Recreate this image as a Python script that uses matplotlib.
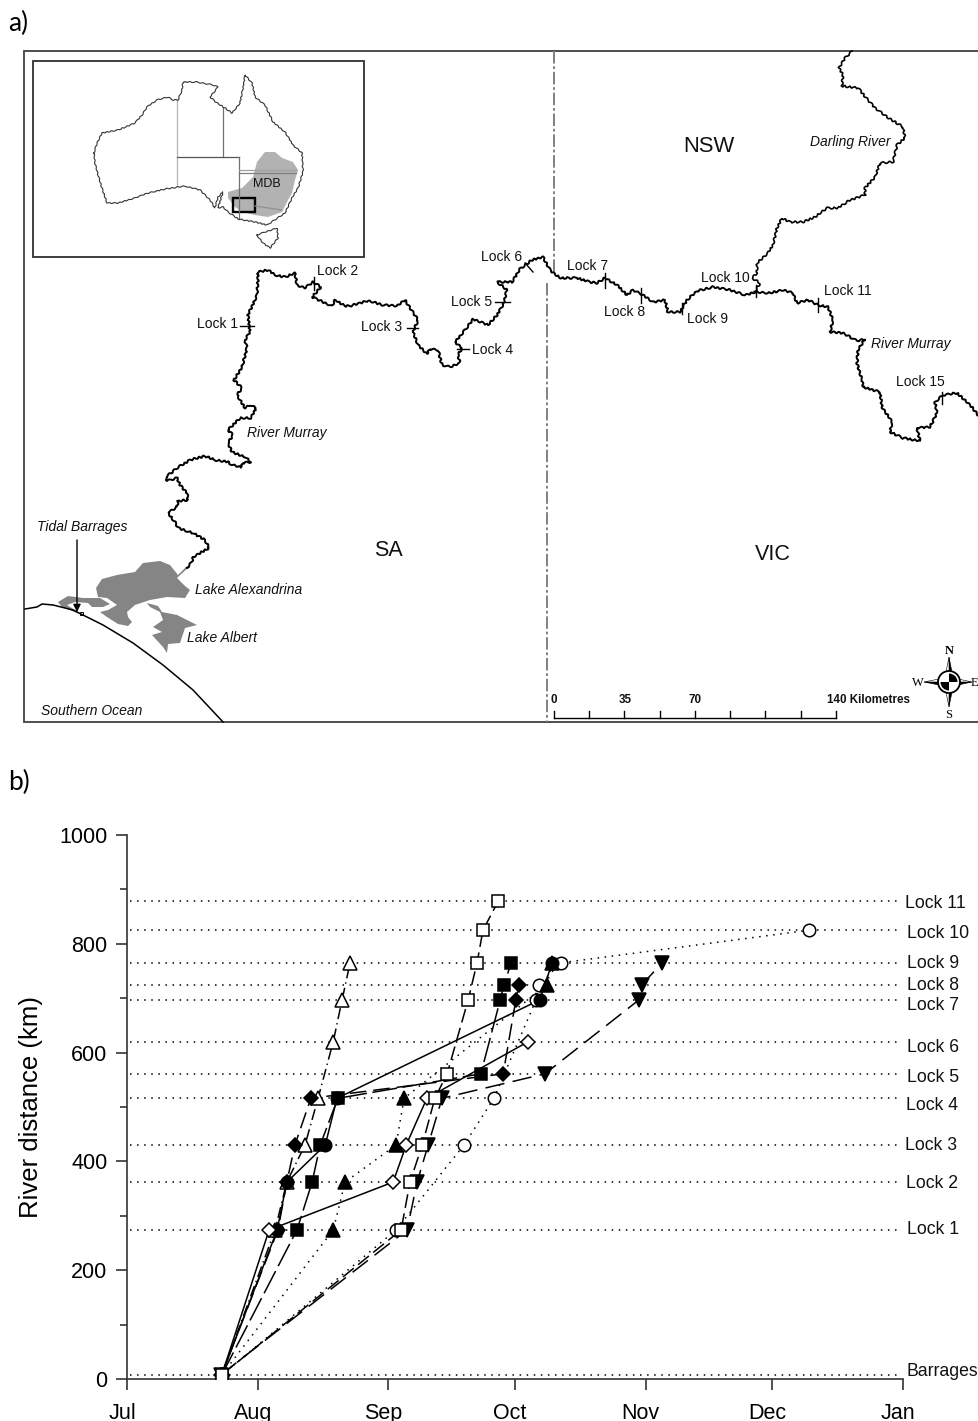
import numpy as np
import matplotlib
matplotlib.use('Agg')
import matplotlib.pyplot as plt
from matplotlib.patches import Polygon, Circle, Wedge, Rectangle
from matplotlib.transforms import ScaledTranslation

plt.rcParams['font.family'] = ['Liberation Sans', 'DejaVu Sans']
plt.rcParams['lines.scale_dashes'] = False

# ---- panel b data: days since 1 July vs river distance (km)
month_days = [0, 31, 62, 92, 123, 153, 184]
month_names = ['Jul', 'Aug', 'Sep', 'Oct', 'Nov', 'Dec', 'Jan']
lock_km = [8, 274, 362, 430, 516, 561, 620, 697, 725, 765, 825, 878]
lock_names = ['Barrages', 'Lock 1', 'Lock 2', 'Lock 3', 'Lock 4', 'Lock 5', 'Lock 6',
              'Lock 7', 'Lock 8', 'Lock 9', 'Lock 10', 'Lock 11']

open_triangle_days = [22.5, 35.1, 37.9, 42.2, 45.3, 48.9, 51.0, 52.9]
open_triangle_km = [8, 274, 362, 430, 516, 620, 697, 765]
filled_down_days = [22.3, 66.4, 68.8, 71.4, 74.7, 99.1, 121.4, 122.1, 126.9]
filled_down_km = [8, 274, 362, 430, 516, 561, 697, 725, 765]
open_circle_days = [22.6, 63.8, 79.9, 87.0, 97.0, 97.7, 102.9, 161.7]
open_circle_km = [8, 274, 430, 516, 697, 725, 765, 825]
filled_up_days = [22.5, 48.9, 51.7, 63.8, 65.7, 99.6, 100.8]
filled_up_km = [8, 274, 362, 430, 516, 725, 765]
filled_circle_days = [22.5, 35.6, 37.9, 47.0, 49.8, 97.9, 100.8]
filled_circle_km = [8, 274, 362, 430, 516, 697, 765]
filled_diamond_days = [22.4, 35.8, 37.9, 39.8, 43.6, 89.2, 92.2, 93.0]
filled_diamond_km = [8, 274, 362, 430, 516, 561, 697, 725]
filled_square_days = [22.5, 40.3, 43.9, 45.8, 50.0, 83.9, 88.5, 89.4, 91.1]
filled_square_km = [8, 274, 362, 430, 516, 561, 697, 725, 765]
open_diamond_days = [22.5, 33.7, 63.1, 66.2, 71.1, 95.1]
open_diamond_km = [8, 274, 362, 430, 516, 620]
open_square_days = [22.5, 65.0, 67.1, 70.0, 73.0, 75.9, 80.9, 83.0, 84.4, 88.0]
open_square_km = [8, 274, 362, 430, 516, 561, 697, 765, 825, 878]

# ---- panel a: outlines, in image pixels
murray = [(187, 568), (192, 562), (193, 557), (209, 548), (205, 540), (193, 533), (178, 528), (175, 522), (168, 513),
          (177, 507), (178, 501), (188, 500), (187, 493), (180, 485), (177, 478), (167, 481), (166, 477),
          (177, 468), (190, 460), (205, 456), (215, 460), (228, 462), (232, 465), (241, 467), (243, 463),
          (251, 462), (245, 457), (232, 452), (228, 443), (233, 435), (228, 430), (240, 418), (251, 418),
          (256, 408), (250, 405), (245, 408), (237, 395), (242, 388), (234, 380), (242, 367), (247, 348),
          (245, 340), (250, 332), (248, 315), (257, 295), (258, 278), (258, 272), (268, 270), (275, 275),
          (285, 277), (295, 273), (297, 285), (305, 288), (313, 282), (321, 287), (312, 297), (323, 302),
          (332, 306), (335, 300), (345, 306), (350, 306), (367, 301), (373, 302), (383, 305), (397, 306),
          (405, 300), (410, 308), (418, 320), (413, 332), (418, 345), (427, 354), (430, 349), (438, 350),
          (442, 365), (450, 367), (460, 363), (458, 355), (462, 348), (455, 342), (465, 330), (473, 319),
          (488, 325), (497, 315), (503, 305), (507, 290), (497, 282), (512, 282), (520, 269), (532, 260),
          (543, 257), (550, 270), (560, 278), (577, 278), (590, 282), (597, 283), (605, 278), (617, 285),
          (627, 295), (633, 290), (643, 295), (653, 302), (665, 300), (668, 312), (680, 312), (687, 300),
          (697, 291), (713, 287), (730, 290), (745, 295), (755, 292), (770, 293), (783, 290), (793, 293),
          (797, 303), (808, 300), (818, 305), (828, 307), (833, 320), (830, 332), (843, 333), (857, 341),
          (865, 339), (858, 350), (857, 363), (862, 380), (863, 387), (880, 392), (882, 407), (892, 422),
          (890, 432), (903, 438), (920, 441), (917, 428), (930, 427), (937, 413), (935, 402), (943, 395),
          (957, 393), (970, 405), (978, 415)]
darling = [(852, 51), (845, 58), (839, 68), (843, 75), (842, 86), (858, 88), (868, 100), (875, 108),
           (887, 117), (903, 127), (905, 138), (897, 145), (893, 162), (880, 163), (875, 177), (865, 188),
           (865, 195), (850, 200), (838, 208), (827, 208), (815, 217), (803, 222), (790, 222), (782, 218),
           (777, 228), (773, 245), (768, 253), (757, 263), (757, 273), (752, 278), (760, 283), (755, 292)]
alexandrina = [(190, 566), (177, 578), (185, 586), (190, 590), (185, 598), (167, 597), (150, 600), (135, 605),
               (127, 612), (128, 617), (132, 622), (128, 626), (118, 624), (107, 617), (100, 612), (108, 610),
               (117, 605), (107, 598), (98, 597), (96, 588), (102, 579), (117, 575), (135, 572), (143, 563),
               (160, 561), (170, 565), (178, 575), (187, 566)]
coorong = [(58, 602), (68, 596), (83, 598), (100, 598), (110, 604), (103, 607), (92, 607), (88, 603),
           (75, 602), (67, 605), (75, 610), (82, 615), (72, 611), (62, 607)]
albert = [(147, 603), (158, 606), (162, 612), (177, 615), (197, 625), (185, 628), (180, 643), (168, 644),
          (167, 653), (163, 647), (152, 635), (162, 632), (153, 627), (163, 620), (160, 612), (150, 607)]
coast = [(25, 609), (37, 607), (42, 604), (53, 605), (73, 610), (103, 625), (133, 643), (163, 665),
         (193, 690), (223, 722)]
australia = [(94, 153), (97, 143), (102, 133), (118, 130), (135, 123), (142, 115), (147, 107), (157, 100),
             (168, 97), (173, 100), (178, 100), (182, 90), (183, 82), (197, 82), (213, 85), (218, 87),
             (210, 97), (217, 103), (225, 108), (232, 113), (240, 103), (243, 88), (245, 75), (252, 83),
             (255, 97), (265, 105), (273, 122), (285, 132), (293, 145), (302, 153), (303, 172), (298, 188),
             (292, 198), (285, 213), (267, 225), (255, 222), (238, 219), (228, 212), (223, 207),
             (218, 208), (223, 192), (218, 197), (215, 208), (210, 200), (200, 190), (185, 186), (165, 189),
             (148, 193), (135, 198), (118, 203), (107, 203), (105, 197), (100, 182), (95, 163), (94, 153)]
tasmania = [(257, 235), (265, 232), (277, 228), (278, 238), (270, 248), (263, 243), (257, 235)]
mdb = [(228, 192), (242, 188), (253, 177), (257, 162), (265, 152), (275, 152), (282, 158), (293, 162),
       (298, 170), (295, 180), (292, 193), (287, 202), (282, 212), (268, 217), (255, 215), (242, 212),
       (235, 207), (228, 198)]
state_lines = [([177, 177], [100, 186], '#b5b5b5'), ([223, 223], [108, 157], '#707070'),
               ([177, 239], [157, 157], '#555555'), ([239, 239], [157, 218], '#707070'),
               ([239, 296], [173, 173], '#808080'), ([239, 296], [170, 170], '#a0a0a0'),
               ([255, 282], [206, 210], '#909090')]
lock_ticks = [((240, 326), (254, 326)), ((314, 277), (314, 290)), ((407, 328), (418, 328)),
              ((457, 349), (469, 349)), ((495, 302), (510, 302)), ((525, 263), (533, 272)),
              ((605, 273), (605, 288)), ((641, 288), (641, 303)), ((682, 303), (682, 314)),
              ((756, 285), (756, 297)), ((818, 298), (818, 312)), ((942, 392), (942, 404))]
map_labels = [('Lock 1', 197, 324), ('Lock 2', 317, 271), ('Lock 3', 361, 327), ('Lock 4', 472, 350),
              ('Lock 5', 451, 302), ('Lock 6', 481, 257), ('Lock 7', 567, 266), ('Lock 8', 604, 312),
              ('Lock 9', 687, 319), ('Lock 10', 701, 278), ('Lock 11', 824, 291), ('Lock 15', 896, 382)]
italic_labels = [('River Murray', 247, 433), ('River Murray', 871, 344), ('Darling River', 810, 142),
                 ('Tidal Barrages', 37, 527), ('Lake Alexandrina', 195, 590), ('Lake Albert', 187, 638),
                 ('Southern Ocean', 41, 711)]
scale_labels = [('0', 554), ('35', 625), ('70', 695)]

label_px_y = [1371, 1229, 1184, 1145, 1105, 1077, 1047, 1005, 986, 964, 933, 903]
label_px_x = [907, 907, 906, 905, 906, 907, 907, 907, 907, 907, 907, 905]


def xy(points):
    return [p[0] for p in points], [p[1] for p in points]


def rough(ax, points, lw, color='black', amount=0.9):
    # outlines in the source are jagged at a scale too fine to trace by hand
    line, = ax.plot(*xy(points), color=color, lw=lw, solid_joinstyle='round')
    line.set_sketch_params(amount, 6, 2)
    return line


fig = plt.figure(figsize=(9.79, 14.21), dpi=100)
mp = fig.add_axes([0, 0, 1, 1])
mp.set_xlim(0, 979)
mp.set_ylim(1421, 0)
mp.axis('off')

mp.text(8, 23, 'a)', fontsize=19, family='Lato', va='center')
mp.text(8, 782, 'b)', fontsize=19, family='Lato', va='center')

mp.add_patch(Rectangle((24, 51), 980, 671, fc='white', ec='#404040', lw=1.3))

# state borders
mp.plot([554, 554], [51, 272], color='#808080', lw=1.4, ls=(0, (9, 2, 2, 2)))
mp.plot([547, 547], [283, 722], color='#808080', lw=1.4, ls=(0, (9, 2, 2, 2)))

# lakes, coast and rivers
for shape in [alexandrina, coorong, albert]:
    mp.add_patch(Polygon(shape, closed=True, fc='#858585', ec='none'))
mp.plot(*xy(coast), color='black', lw=1.1)
rough(mp, murray, 1.4)
rough(mp, darling, 1.2)
for a, b in lock_ticks:
    mp.plot([a[0], b[0]], [a[1], b[1]], color='black', lw=1.0)
for name, x, y in map_labels:
    mp.text(x, y, name, fontsize=10, color='#111111', va='center')
for name, x, y in italic_labels:
    mp.text(x, y, name, fontsize=10, color='#111111', va='center', style='italic')
mp.text(709, 146, 'NSW', fontsize=15.8, color='#111111', ha='center', va='center')
mp.text(388, 551, 'SA', fontsize=15.5, color='#111111', ha='center', va='center')
mp.text(773, 555, 'VIC', fontsize=15.5, color='#111111', ha='center', va='center')
mp.annotate('', xy=(77, 612), xytext=(77, 540),
            arrowprops=dict(arrowstyle='-|>', color='black', lw=1.0, mutation_scale=11, shrinkA=0, shrinkB=0))
mp.add_patch(Rectangle((80, 612), 3, 3, fc='white', ec='black', lw=0.7))

# inset of Australia
mp.add_patch(Rectangle((33, 61), 331, 196, fc='white', ec='#303030', lw=1.3))
mp.add_patch(Polygon(mdb, closed=True, fc='#b2b2b2', ec='none'))
for lx, ly, col in state_lines:
    mp.plot(lx, ly, color=col, lw=0.9)
rough(mp, australia, 0.8, '#333333', 0.5)
rough(mp, tasmania, 0.8, '#333333', 0.5)
mp.add_patch(Rectangle((233, 198), 22, 14, fc='none', ec='black', lw=1.7))
mp.text(267, 184, 'MDB', fontsize=9, color='#111111', ha='center', va='center')

# scale bar
mp.plot([554, 836], [718, 718], color='black', lw=1.0)
for tx in np.linspace(554, 836, 9):
    mp.plot([tx, tx], [711, 718], color='black', lw=1.0)
for name, x in scale_labels:
    mp.text(x, 700, name, fontsize=8.4, weight='bold', color='#111111', ha='center', va='center')
mp.text(827, 700, '140 Kilometres', fontsize=8.4, weight='bold', color='#111111', va='center')

# compass
cx, cy = 949, 682
for dx, dy in [(0, -25), (0, 25), (-25, 0), (23, 0)]:
    px, py = (1, 0) if dx == 0 else (0, 1)
    mp.add_patch(Polygon([(cx + dx, cy + dy), (cx + 5 * px, cy + 5 * py), (cx, cy)], fc='black', ec='black', lw=0.4))
    mp.add_patch(Polygon([(cx + dx, cy + dy), (cx - 5 * px, cy - 5 * py), (cx, cy)], fc='white', ec='black', lw=0.4))
mp.add_patch(Circle((cx, cy), 11, fc='white', ec='black', lw=1.3))
mp.add_patch(Wedge((cx, cy), 8.5, 270, 360, fc='black', ec='none'))
mp.add_patch(Wedge((cx, cy), 8.5, 90, 180, fc='black', ec='none'))
mp.text(949, 651, 'N', fontsize=9, weight='bold', family='Liberation Serif', ha='center', va='center')
mp.text(949, 715, 'S', fontsize=9, family='Liberation Serif', ha='center', va='center')
mp.text(918, 683, 'W', fontsize=9, family='Liberation Serif', ha='center', va='center')
mp.text(978, 683, 'E', fontsize=9, family='Liberation Serif', ha='right', va='center')

# panel b
ax = fig.add_axes([127 / 979, 1 - 1379 / 1421, 776 / 979, 544 / 1421])
ax.patch.set_alpha(0)
ax.set_xlim(0, 184)
ax.set_ylim(0, 1000)
ax.spines['top'].set_visible(False)
ax.spines['right'].set_visible(False)
for s in ['left', 'bottom']:
    ax.spines[s].set_linewidth(1.2)
    ax.spines[s].set_color('#333333')

grid_dots = (0, (1.1, 4))
ax.hlines(lock_km, 0.7, 183, color='black', lw=1.1, ls=grid_dots, zorder=1)

ms = 9
series = [
    (open_triangle_days, open_triangle_km, '^', 'white', (0, (8, 3, 1, 3))),
    (filled_down_days, filled_down_km, 'v', 'black', (0, (14, 6))),
    (open_circle_days, open_circle_km, 'o', 'white', grid_dots),
    (filled_up_days, filled_up_km, '^', 'black', grid_dots),
    (filled_circle_days, filled_circle_km, 'o', 'black', '-'),
    (filled_diamond_days, filled_diamond_km, 'D', 'black', (0, (12, 5))),
    (filled_square_days, filled_square_km, 's', 'black', (0, (18, 4))),
    (open_diamond_days, open_diamond_km, 'D', 'white', '-'),
    (open_square_days, open_square_km, 's', 'white', (0, (10, 4))),
]
for days, km, marker, face, style in series:
    if marker == 'D':
        size = ms * 0.82
    elif marker in ('^', 'v'):
        size = ms * 1.15
    else:
        size = ms
    ax.plot(days, km, color='black', lw=1.1, ls=style, zorder=3)
    ax.plot(days, km, ls='none', marker=marker, ms=size, mfc=face, mec='black', mew=1.1, zorder=4)

ax.set_xticks(month_days)
ax.set_xticklabels(month_names, fontsize=15.5)
ax.set_yticks(np.arange(0, 1001, 200))
ax.set_yticks(np.arange(100, 1000, 200), minor=True)
ax.tick_params(axis='y', which='major', length=8, width=1.2, labelsize=15.5, pad=6, color='#333333')
ax.tick_params(axis='y', which='minor', length=5, width=1.2, color='#333333')
ax.tick_params(axis='x', length=8, width=1.2, pad=9, color='#333333')
shift = ScaledTranslation(-5 / 100, 0, fig.dpi_scale_trans)
for t in ax.get_xticklabels():
    t.set_transform(t.get_transform() + shift)
ax.set_ylabel('River distance (km)', fontsize=18.5)
ax.yaxis.set_label_coords(-0.108, 0.5)

for name, x, y in zip(lock_names, label_px_x, label_px_y):
    mp.text(x, y, name, fontsize=12.7, color='#111111', va='center', zorder=5)

fig.savefig('out.png', dpi=100)
